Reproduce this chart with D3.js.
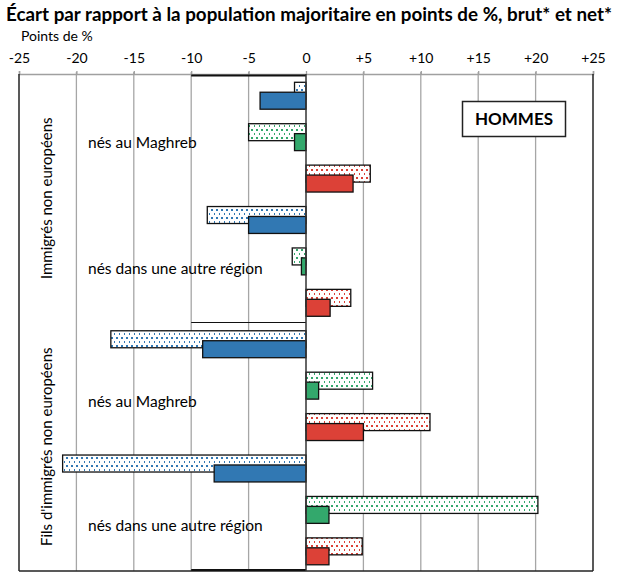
<!DOCTYPE html>
<html>
<head>
<meta charset="utf-8">
<script src="https://cdn.jsdelivr.net/npm/d3@7"></script>
<style>
  body { margin: 0; background: #fff; }
  text { font-family: Lato, "Open Sans", sans-serif; fill: #000; }
</style>
</head>
<body>
<div id="chart"></div>
<script>
const w = 619;
const h = 585;

// data
const groups = ['Immigrés non européens', "Fils d'immigrés non européens"];
const origins = ['nés au Maghreb', 'nés dans une autre région', 'nés au Maghreb', 'nés dans une autre région'];
const rows = d3.range(12);
const brut = [-1.0, -5.0, 5.6, -8.6, -1.2, 3.9, -17.0, 5.8, 10.8, -21.2, 20.2, 4.9];
const net = [-4.0, -1.0, 4.1, -5.0, -0.4, 2.1, -9.0, 1.1, 5.0, -8.0, 2.0, 2.0];
const tickVals = [-25, -20, -15, -10, -5, 0, 5, 10, 15, 20, 25];
const colors = ['#3178b3', '#33a86c', '#dc4137'];

const svg = d3.select('#chart').append('svg').attr('width', w).attr('height', h);

const xScale = d3.scaleLinear().domain([-25, 25]).range([19, 593]);
const yScale = d3.scaleBand().domain(rows).range([74, 571]).padding(0);
const bw = yScale.bandwidth();

// dotted patterns
const defs = svg.append('defs');
colors.forEach((c, i) => {
    const p = defs.append('pattern')
        .attr('id', 'dots' + i)
        .attr('patternUnits', 'userSpaceOnUse')
        .attr('width', 5).attr('height', 8);
    p.append('rect').attr('width', 5).attr('height', 8).attr('fill', '#fff');
    p.append('rect').attr('x', 1).attr('y', 1).attr('width', 2).attr('height', 2)
        .attr('fill', c).attr('shape-rendering', 'crispEdges');
    p.append('rect').attr('x', 3.5).attr('y', 5).attr('width', 2).attr('height', 2)
        .attr('fill', c).attr('shape-rendering', 'crispEdges');
});

// title
svg.append('text').attr('x', 6).attr('y', 21)
    .attr('textLength', 606).attr('lengthAdjust', 'spacingAndGlyphs')
    .style('font-weight', 'bold').style('font-size', '18px')
    .text('Écart par rapport à la population majoritaire en points de %, brut* et net*');
svg.append('text').attr('x', 21).attr('y', 41).style('font-size', '14px').text('Points de %');

// gridlines
svg.append('g').selectAll('line').data(tickVals.slice(1, -1).filter(d => d !== 0)).enter().append('line')
    .attr('x1', d => xScale(d)).attr('x2', d => xScale(d))
    .attr('y1', 72).attr('y2', 571)
    .attr('stroke', '#a6a6a6').attr('stroke-width', 1.3);

// top axis
const xAxis = d3.axisTop(xScale).tickValues(tickVals).tickSize(3).tickPadding(8)
    .tickFormat(d => d > 0 ? '+' + d : String(d));
const gx = svg.append('g').attr('transform', 'translate(0,74)').call(xAxis);
gx.select('.domain').attr('stroke', '#a0a0a0').attr('stroke-width', 1.5);
gx.selectAll('.tick line').attr('stroke', '#a0a0a0').attr('stroke-width', 1.3);
gx.selectAll('.tick text').style('font-size', '14px').style('font-family', 'Lato, sans-serif').attr('fill', '#000');

// frame
svg.append('line').attr('x1', xScale(-25)).attr('x2', xScale(-25)).attr('y1', 74).attr('y2', 571)
    .attr('stroke', '#222').attr('stroke-width', 1.5);
svg.append('line').attr('x1', xScale(25)).attr('x2', xScale(25)).attr('y1', 74).attr('y2', 571)
    .attr('stroke', '#222').attr('stroke-width', 1.5);
svg.append('line').attr('x1', xScale(-25)).attr('x2', xScale(25)).attr('y1', 571).attr('y2', 571)
    .attr('stroke', '#222').attr('stroke-width', 1.5);

// group separators (-10 to 0)
[0, 6, 12].forEach(r => {
    const yy = r === 12 ? 570 : yScale(r) + (r === 0 ? 1.5 : 0);
    svg.append('line').attr('x1', xScale(-10)).attr('x2', xScale(0)).attr('y1', yy).attr('y2', yy)
        .attr('stroke', '#111').attr('stroke-width', r === 6 ? 1 : 2);
});

// bars
const barH = bw * 0.41;
const top0 = bw * 0.2;
const shift = bw * 0.24;

svg.append('g').selectAll('rect').data(rows).enter().append('rect')
    .attr('x', d => xScale(Math.min(0, brut[d])))
    .attr('y', d => yScale(d) + top0)
    .attr('width', d => Math.abs(xScale(brut[d]) - xScale(0)))
    .attr('height', barH)
    .attr('fill', d => 'url(#dots' + (d % 3) + ')')
    .attr('stroke', '#111').attr('stroke-width', 1.3);

svg.append('g').selectAll('rect').data(rows).enter().append('rect')
    .attr('x', d => xScale(Math.min(0, net[d])))
    .attr('y', d => yScale(d) + top0 + shift)
    .attr('width', d => Math.abs(xScale(net[d]) - xScale(0)))
    .attr('height', barH)
    .attr('fill', d => colors[d % 3])
    .attr('stroke', '#111').attr('stroke-width', 1.3);

// zero axis
svg.append('line').attr('x1', xScale(0)).attr('x2', xScale(0)).attr('y1', 74).attr('y2', 571)
    .attr('stroke', '#333').attr('stroke-width', 1.5);

// origin labels
const originPos = [1.65, 4.7, 7.9, 10.9];
svg.append('g').selectAll('text').data(origins).enter().append('text')
    .attr('x', 88)
    .attr('y', (d, i) => yScale(0) + bw * originPos[i])
    .attr('dy', '0.35em')
    .style('font-size', '15.5px')
    .text(d => d);

// group labels (vertical)
const groupPos = [3, 9];
svg.append('g').selectAll('text').data(groups).enter().append('text')
    .attr('transform', (d, i) => 'translate(47,' + (yScale(0) + bw * groupPos[i]) + ') rotate(-90)')
    .attr('text-anchor', 'middle').attr('dy', '0.35em')
    .style('font-size', '15px')
    .text(d => d);

// legend box
const lg = svg.append('g');
lg.append('rect').attr('x', 462.5).attr('y', 101.5).attr('width', 103).attr('height', 35)
    .attr('fill', '#fff').attr('stroke', '#222').attr('stroke-width', 1.5);
lg.append('text').attr('x', 514).attr('y', 119).attr('dy', '0.35em').attr('text-anchor', 'middle')
    .style('font-size', '17px').style('font-weight', 'bold').text('HOMMES');
</script>
</body>
</html>
